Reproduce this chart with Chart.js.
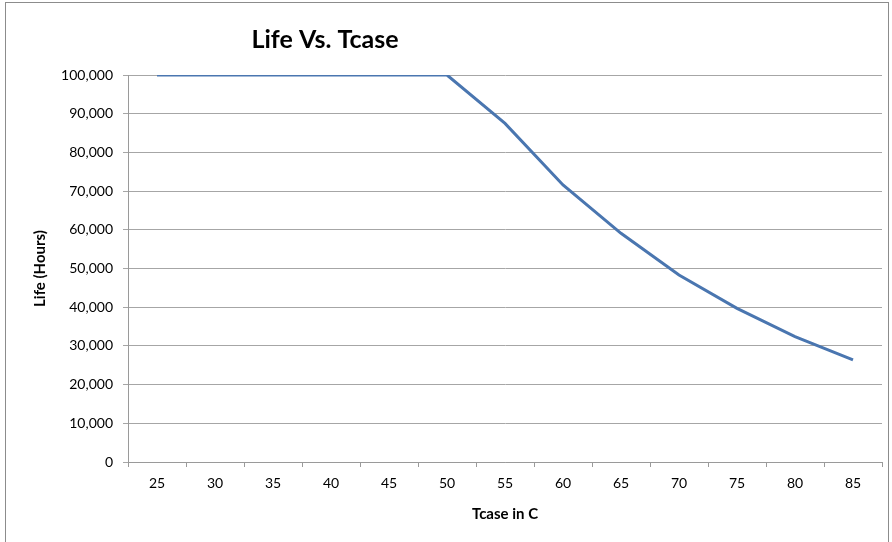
<!DOCTYPE html>
<html>
<head>
<meta charset="utf-8">
<script src="https://cdn.jsdelivr.net/npm/chart.js@4"></script>
<style>
  html, body { margin: 0; padding: 0; background: #fff; }
  #wrap { position: relative; width: 892px; height: 542px; }
  #frame { position: absolute; left: 5px; top: 2px; width: 884px; height: 560px; border: 1px solid #8c8c8c; box-sizing: border-box; pointer-events: none; }
</style>
</head>
<body>
<div id="wrap">
  <canvas id="lifeChart" width="892" height="542"></canvas>
  <div id="frame"></div>
</div>
<script>
// data
const tcase = ['25', '30', '35', '40', '45', '50', '55', '60', '65', '70', '75', '80', '85'];
const lifeHours = [100000, 100000, 100000, 100000, 100000, 100000, 87500, 71600, 59100, 48300, 39700, 32400, 26400];
const chartTitle = 'Life Vs. Tcase';

const font = 'Lato, "Open Sans", sans-serif';

// title sits left of centre, like the Excel original
const titlePlugin = {
    id: 'sideTitle',
    afterDraw(chart) {
        const ctx = chart.ctx;
        ctx.save();
        ctx.font = 'bold 25px ' + font;
        ctx.fillStyle = '#000';
        ctx.textAlign = 'center';
        ctx.textBaseline = 'middle';
        ctx.fillText(chartTitle, 325, 40);
        ctx.restore();
    }
};

const ctxLife = document.getElementById('lifeChart');

new Chart(ctxLife, {
    type: 'line',
    data: {
        labels: tcase,
        datasets: [{
            data: lifeHours,
            borderColor: '#4a76b0',
            borderWidth: 3,
            pointRadius: 0,
            tension: 0,
            fill: false
        }]
    },
    options: {
        responsive: false,
        animation: false,
        layout: { padding: { left: 0, top: 75, right: 10, bottom: 0 } },
        plugins: {
            legend: { display: false },
            tooltip: { enabled: false }
        },
        scales: {
            x: {
                offset: true,
                grid: {
                    offset: true,
                    drawOnChartArea: false,
                    drawTicks: true,
                    tickLength: 5,
                    color: '#9a9a9a'
                },
                border: { color: '#9a9a9a' },
                ticks: { color: '#000', font: { family: font, size: 14 }, padding: 8, maxRotation: 0 },
                title: {
                    display: true,
                    text: 'Tcase in C',
                    color: '#000',
                    font: { family: font, size: 15, weight: 'bold' },
                    padding: { top: 0, bottom: 19 }
                },
                afterFit(scale) { scale.height = 80; }
            },
            y: {
                min: 0,
                max: 100000,
                ticks: {
                    stepSize: 10000,
                    color: '#000',
                    font: { family: font, size: 14 },
                    padding: 10,
                    callback: v => v.toLocaleString('en-US')
                },
                grid: { color: '#a6a6a6', tickLength: 5 },
                border: { color: '#9a9a9a' },
                title: {
                    display: true,
                    text: 'Life (Hours)',
                    color: '#000',
                    font: { family: font, size: 15, weight: 'bold' },
                    padding: { top: 31, bottom: 0 }
                },
                afterFit(scale) { scale.width = 128; }
            }
        }
    },
    plugins: [titlePlugin]
});
</script>
</body>
</html>
